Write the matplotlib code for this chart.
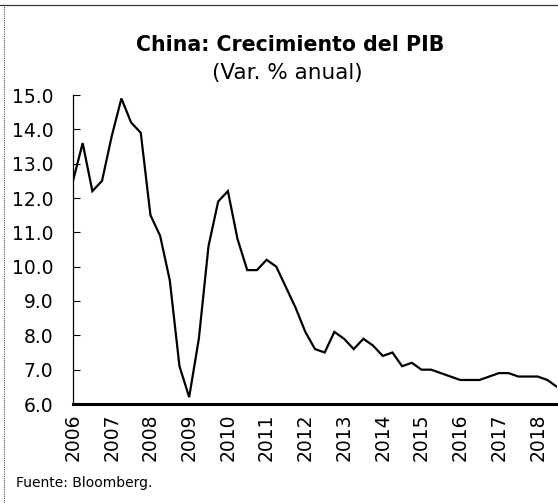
import matplotlib.pyplot as plt
import matplotlib as mpl
from matplotlib.lines import Line2D

mpl.rcParams['font.family'] = 'DejaVu Sans'

# quarterly GDP growth, 2006Q1 - 2018Q3
years = [str(y) for y in range(2006, 2019)]
gdp = [12.5, 13.6, 12.2, 12.5,
       13.8, 14.9, 14.2, 13.9,
       11.5, 10.9, 9.6, 7.1,
       6.2, 7.9, 10.6, 11.9,
       12.2, 10.8, 9.9, 9.9,
       10.2, 10.0, 9.4, 8.8,
       8.1, 7.6, 7.5, 8.1,
       7.9, 7.6, 7.9, 7.7,
       7.4, 7.5, 7.1, 7.2,
       7.0, 7.0, 6.9, 6.8,
       6.7, 6.7, 6.7, 6.8,
       6.9, 6.9, 6.8, 6.8,
       6.8, 6.7, 6.5]
yticks = [6.0, 7.0, 8.0, 9.0, 10.0, 11.0, 12.0, 13.0, 14.0, 15.0]

W, H = 558, 503
fig = plt.figure(figsize=(W / 100, H / 100), dpi=100)
ax = fig.add_axes([73 / W, 1 - 404 / H, (557 - 73) / W, (404 - 95) / H])

x = list(range(len(gdp)))
ax.plot(x, gdp, color='black', lw=1.6, solid_joinstyle='miter')

ax.set_xlim(0, len(gdp) - 1)
ax.set_ylim(6, 15)
ax.set_yticks(yticks)
ax.set_yticklabels([f'{v:.1f}' for v in yticks], fontsize=13.5)
ax.set_xticks(range(0, len(gdp), 4))
ax.set_xticklabels(years, rotation=90, fontsize=13.5)
ax.tick_params(axis='y', direction='in', length=5, width=0.8, pad=14)
ax.tick_params(axis='x', length=0, pad=7)

for s in ['top', 'right']:
    ax.spines[s].set_visible(False)
ax.spines['left'].set_linewidth(0.9)
ax.spines['bottom'].set_linewidth(2.2)

fig.text(290 / W, 1 - 45 / H, 'China: Crecimiento del PIB', ha='center', va='center',
         fontsize=14.8, fontweight='bold')
fig.text(287 / W, 1 - 73 / H, '(Var. % anual)', ha='center', va='center', fontsize=15.5)
fig.text(16 / W, 1 - 483 / H, 'Fuente: Bloomberg.', ha='left', va='center', fontsize=10)

# scanned frame edges
fig.add_artist(Line2D([4 / W, 4 / W], [0, 1 - 5 / H], color='#555555', lw=0.8, ls=(0, (1, 1))))
fig.add_artist(Line2D([0, 1], [1 - 5 / H, 1 - 5 / H], color='#333333', lw=0.9))

fig.savefig('out.png', dpi=100)
